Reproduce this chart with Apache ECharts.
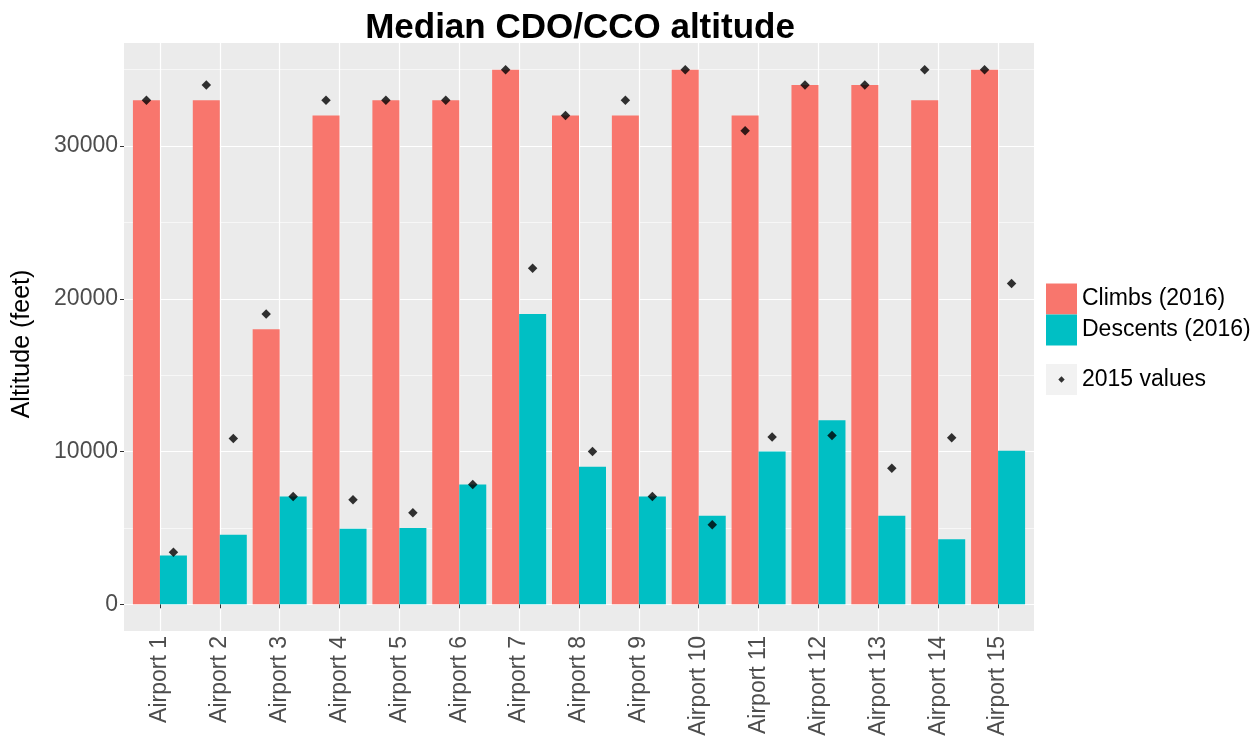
<!DOCTYPE html>
<html>
<head>
<meta charset="utf-8">
<script src="https://cdn.jsdelivr.net/npm/echarts@6/dist/echarts.min.js"></script>
<style>
html,body{margin:0;padding:0;background:#fff;}
#c{width:1258px;height:736px;}
</style>
</head>
<body>
<div id="c"></div>
<script>
const categories = ['Airport 1','Airport 2','Airport 3','Airport 4','Airport 5','Airport 6','Airport 7','Airport 8','Airport 9','Airport 10','Airport 11','Airport 12','Airport 13','Airport 14','Airport 15'];
const climbs2016   = [33000,33000,18000,32000,33000,33000,35000,32000,32000,35000,32000,34000,34000,33000,35000];
const descents2016 = [3200,4550,7050,4950,5000,7850,19000,9000,7050,5800,10000,12050,5800,4250,10050];
const climbs2015   = [33000,34000,19000,33000,33000,33000,35000,32000,33000,35000,31000,34000,34000,35000,35000];
const descents2015 = [3400,10850,7050,6850,6000,7850,22000,10000,7050,5200,10950,11050,8900,10900,21000];
const yTicks = [0,10000,20000,30000];
const yMinorTicks = [5000,15000,25000,35000];

const FONT = '"Liberation Sans", Arial, Helvetica, sans-serif';
const xIdx = categories.map((_, i) => i + 1);
const pairs = arr => arr.map((v, i) => [xIdx[i], v]);

const chart = echarts.init(document.getElementById('c'), null, {renderer: 'canvas'});
const option = {
  animation: false,
  backgroundColor: '#ffffff',
  textStyle: {fontFamily: FONT},
  title: {
    text: 'Median CDO/CCO altitude',
    left: 580, top: 11, textAlign: 'center', padding: 0,
    textStyle: {fontSize: 35, fontWeight: 'bold', color: '#000', fontFamily: FONT}
  },
  grid: {
    left: 124, right: 224, top: 43, bottom: 105,
    show: true, backgroundColor: '#EBEBEB', borderWidth: 0,
    containLabel: false, outerBoundsMode: 'none'
  },
  xAxis: {
    type: 'value', min: 0.4, max: 15.6,
    axisLine: {show: false},
    axisTick: {show: true, customValues: xIdx, length: 4, lineStyle: {color: '#333333', width: 1}},
    axisLabel: {
      customValues: xIdx, rotate: 90, margin: 5, fontSize: 23, color: '#4D4D4D', fontFamily: FONT,
      formatter: v => categories[Math.round(v) - 1]
    },
    splitLine: {show: true, lineStyle: {color: '#ffffff', width: 1.2}}
  },
  yAxis: {
    type: 'value', min: -1750, max: 36750,
    name: 'Altitude (feet)', nameLocation: 'middle', nameGap: 89, nameMoveOverlap: false,
    nameTextStyle: {fontSize: 25, color: '#000', fontFamily: FONT, padding: [0, 14, 0, 0]},
    axisLine: {show: false},
    axisTick: {show: true, customValues: yTicks, length: 4, lineStyle: {color: '#333333', width: 1}},
    axisLabel: {customValues: yTicks, fontSize: 23, color: '#4D4D4D', margin: 6, fontFamily: FONT,
      formatter: v => String(v)},
    splitLine: {show: true, lineStyle: {color: '#ffffff', width: 1.2}}
  },
  legend: [
    {
      data: ['Climbs (2016)', 'Descents (2016)'],
      orient: 'vertical', left: 1046, top: 283.5,
      itemWidth: 31, itemHeight: 31, itemGap: 0, padding: 0,
      icon: 'rect', selectedMode: false,
      textStyle: {fontSize: 23, color: '#000', fontFamily: FONT}
    },
    {
      data: ['2015 values'],
      orient: 'vertical', left: 1046, top: 364,
      itemWidth: 31, itemHeight: 31, itemGap: 0, padding: 0,
      icon: 'path://M0,0M31,31M15.5,12.3L18.7,15.5L15.5,18.7L12.3,15.5Z', selectedMode: false,
      textStyle: {fontSize: 23, color: '#000', fontFamily: FONT}
    }
  ],
  graphic: [
    {type: 'rect', left: 1046, top: 364, shape: {width: 31, height: 31}, style: {fill: '#F2F2F2'}, z: 0, silent: true}
  ],
  series: [
    {name: 'Climbs (2016)', type: 'bar', data: pairs(climbs2016), barWidth: 27, barGap: '0%',
     itemStyle: {color: '#F8766D'}},
    {name: 'Descents (2016)', type: 'bar', data: pairs(descents2016), barWidth: 27, barGap: '0%',
     itemStyle: {color: '#00BFC4'}},
    {name: '2015 values', type: 'scatter', data: pairs(climbs2015), symbol: 'diamond', symbolSize: 9.5,
     symbolOffset: [-13.5, 0], itemStyle: {color: '#000'}, z: 4},
    {name: '2015 values', type: 'scatter', data: pairs(descents2015), symbol: 'diamond', symbolSize: 9.5,
     symbolOffset: [13.5, 0], itemStyle: {color: '#000'}, z: 4},
    {name: 'minor', type: 'line', data: [], silent: true,
     markLine: {silent: true, symbol: 'none', z: 1, animation: false,
       label: {show: false}, lineStyle: {color: '#ffffff', width: 0.6, type: 'solid'},
       emphasis: {disabled: true},
       data: yMinorTicks.map(v => ({yAxis: v}))}}
  ]
};
chart.setOption(option);
</script>
</body>
</html>
